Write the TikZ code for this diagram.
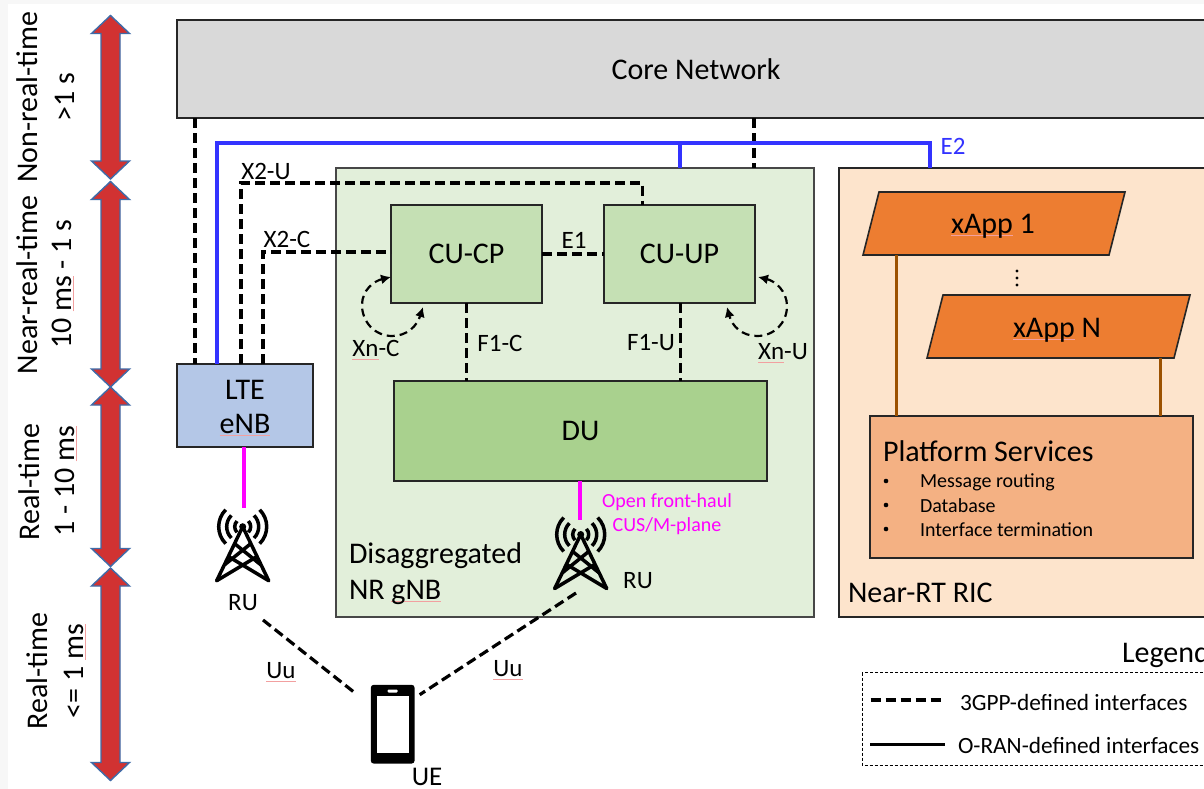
\documentclass[tikz,border=0pt]{standalone}
\usepackage{fontspec}
\setmainfont{Carlito}
\usetikzlibrary{arrows.meta,calc}
\definecolor{sqc}{HTML}{F2A0A0}
\definecolor{corefill}{HTML}{D9D9D9}
\definecolor{gnbfill}{HTML}{E2EFDA}
\definecolor{cufill}{HTML}{C5E0B4}
\definecolor{dufill}{HTML}{A9D18E}
\definecolor{ltefill}{HTML}{B4C7E7}
\definecolor{ricfill}{HTML}{FDE4CC}
\definecolor{appfill}{HTML}{ED7D31}
\definecolor{platfill}{HTML}{F4B183}
\definecolor{brownline}{HTML}{9C5100}
\definecolor{blueline}{HTML}{3333FF}
\definecolor{pinkline}{HTML}{FF00FF}
\definecolor{redfill}{HTML}{D13232}
\definecolor{redborder}{HTML}{3F6BA8}
\definecolor{edge}{HTML}{262626}
\newcommand{\sq}[1]{\setbox0\hbox{#1}\rlap{\raisebox{-2.5pt}{\textcolor{sqc}{\rule{\wd0}{0.7pt}}}}#1}
\newcommand{\fsz}[1]{\fontsize{#1}{#1}\selectfont}
\newcommand{\timearrow}[2]{\draw[fill=redfill,draw=redborder,line width=1.4pt,line join=miter]
  (110.5,#1) -- (129.5,#1+18) -- (120,#1+18) -- (120,#2-18) -- (129.5,#2-18) -- (110.5,#2)
  -- (91.5,#2-18) -- (101,#2-18) -- (101,#1+18) -- (91.5,#1+18) -- cycle;}
\tikzset{
  box/.style={draw=edge,line width=1.6pt,inner sep=0pt,outer sep=0pt,text=black},
  lab/.style={inner sep=0pt,outer sep=0pt,text=black,font=\fsz{25}},
  big/.style={lab,font=\fsz{30}},
  side/.style={lab,font=\fsz{30},rotate=90},
  dline/.style={line width=3.2pt,dash pattern=on 10pt off 5pt,black},
  loopline/.style={line width=2.2pt,dash pattern=on 8pt off 5pt,black,{Latex[length=10pt,width=10pt]}-{Latex[length=10pt,width=10pt]}},
  bluewire/.style={line width=3.3pt,blueline,line join=miter},
  pinkwire/.style={line width=4pt,pinkline},
  brownwire/.style={line width=3pt,brownline},
  towerpic/.pic={
    \begin{scope}[line width=3.5pt,black,line cap=round,line join=round]
      \draw (-26,54) -- (0,0) -- (26,54);
      \draw (-26,54) -- (14,30) (26,54) -- (-14,30);
      \draw (-18,38) -- (8,17) (18,38) -- (-8,17);
      \fill (0,0) circle (3.5);
      \foreach \r in {8,16,24}{
        \draw[line cap=butt] ({\r*cos(45)},{-\r*sin(45)}) arc[start angle=45,end angle=-45,radius=\r,y radius=-\r];
        \draw[line cap=butt] ({-\r*cos(45)},{-\r*sin(45)}) arc[start angle=135,end angle=225,radius=\r,y radius=-\r];
      }
    \end{scope}
  }
}
\begin{document}
\begin{tikzpicture}[x=1pt,y=-1pt]
\useasboundingbox (0,0) rectangle (1204,789);
\clip (0,0) rectangle (1204,789);
\fill[white] (0,0) rectangle (1204,789);
\fill[black!3] (0,0) rectangle (8,789);
\fill[black!3] (0,0) rectangle (1204,4);

% time scale
\timearrow{15.5}{179}
\timearrow{181.5}{387}
\timearrow{387}{566.5}
\timearrow{568}{780.5}
\node[side] (t1a) at (27,97) {Non-real-time};
\node[side] (t1b) at (65,97) {>1 s};
\node[side] (t2a) at (27,285) {Near-real-time};
\node[side] (t2b) at (63,284) {10 \sq{ms} - 1 s};
\node[side] (t3a) at (29,482) {Real-time};
\node[side] (t3b) at (66,481) {1 - 10 \sq{ms}};
\node[side] (t4a) at (37,671) {Real-time};
\node[side] (t4b) at (75,671) {<= 1 \sq{ms}};

% containers
\node[box,fill=corefill,minimum width=1038pt,minimum height=98.5pt] (core) at (696,69) {\fsz{30}Core Network};
\node[box,fill=gnbfill,draw=edge!85,minimum width=478pt,minimum height=449pt] (gnb) at (575,392.5) {};
\node[box,fill=ricfill,minimum width=400pt,minimum height=449pt] (ric) at (1039,392.5) {};

% gNB blocks
\node[box,fill=cufill,minimum width=151pt,minimum height=98pt] (cucp) at (466.5,254) {\fsz{30}CU-CP};
\node[box,fill=cufill,minimum width=151pt,minimum height=98pt] (cuup) at (679.5,254) {\fsz{30}CU-UP};
\node[box,fill=dufill,minimum width=373pt,minimum height=100pt] (du) at (580.5,431) {\fsz{30}DU};
\node[box,fill=ltefill,minimum width=136pt,minimum height=83pt] (lte) at (245,405.5) {};
\node[big] (ltea) at (245,390) {LTE};
\node[big] (lteb) at (245,425) {\sq{eNB}};

% RIC blocks
\draw[box,fill=appfill] (879,192) -- (1125,192) -- (1109,255) -- (863,255) -- cycle;
\draw[box,fill=appfill] (943,295) -- (1190,295) -- (1174,358) -- (927,358) -- cycle;
\node[big] (app1) at (993,226) {\sq{xApp} 1};
\node[big] (appn) at (1057,330) {\sq{xApp} N};
\coordinate (app1b) at (896.5,255);
\coordinate (appnb) at (1160,358);
\node[box,fill=platfill,minimum width=323pt,minimum height=142pt] (plat) at (1031.5,487) {};
\node[big,anchor=west] (plath) at (883,451) {Platform Services};
\foreach \yy/\tt/\nn in {481/Message routing/a,505/Database/b,529/Interface termination/c}{
  \fill[black] (886,\yy) circle (2.3);
  \node[lab,font=\fsz{20},anchor=west] (pl\nn) at (920,\yy+0.8) {\tt};
}
\foreach \yy in {271,278,285}{\fill[black] (1017,\yy) circle (1.7);}
\draw[brownwire] (app1b) -- (app1b |- plat.north);
\draw[brownwire] (appnb) -- (appnb |- plat.north);

% dashed interfaces
\draw[dline] (195,0 |- core.south) -- (195,0 |- lte.north);
\draw[dline] (754,0 |- core.south) -- (754,0 |- gnb.north);
\draw[dline] (241,0 |- lte.north) -- (241,183) -- (642.5,183) -- (642.5,0 |- cuup.north);
\draw[dline] (263,0 |- lte.north) -- (263,252) -- (cucp.west |- 0,252);
\draw[dline] (cucp.east) -- (cuup.west);
\draw[dline] (466.5,0 |- cucp.south) -- (466.5,0 |- du.north);
\draw[dline] (680.5,0 |- cuup.south) -- (680.5,0 |- du.north);

% blue E2
\draw[bluewire] (217,0 |- lte.north) -- (217,143) -- (930,143) -- (930,0 |- ric.north);
\draw[bluewire] (680,143) -- (680,0 |- gnb.north);

% loops
\draw[loopline] ($(cucp.south west)+(0,-26)$) .. controls (374,281) and (362,290) .. (362,305)
  .. controls (362,322) and (375,336) .. (392,336) .. controls (407,336) and (417,326) .. ($(cucp.south west)+(32,4)$);
\draw[loopline] ($(cuup.south east)+(3,-26)$) .. controls (775,281) and (787,291) .. (787,306)
  .. controls (787,323) and (774,336) .. (757,336) .. controls (742,336) and (732,326) .. ($(cuup.south east)+(-28,4)$);

% radio
\pic (tower1) at (242.7,526.7) {towerpic};
\pic (tower2) at (580.7,534.5) {towerpic};
\coordinate (t1top) at (243.5,508);
\coordinate (t2top) at (580,520);
\draw[pinkwire] (t1top |- lte.south) -- (t1top);
\draw[pinkwire] (t2top |- du.south) -- (t2top);
\node[box,fill=black,draw=black,rounded corners=2pt,minimum width=42pt,minimum height=77pt] (phone) at (392.7,724.2) {};
\fill[white] (376.7,696) rectangle (409,752.7);
\fill[white,rounded corners=1pt] (387.7,689.5) rectangle (397.7,692.5);
\coordinate (ru1c) at (263,620);
\coordinate (ru2c) at (576,593);
\draw[dline] (ru1c) -- ($(phone.north west)+(-17,7)$);
\draw[dline] (ru2c) -- ($(phone.north east)+(6,9)$);

% labels
\node[lab] (x2u) at (266,171) {X2-U};
\node[lab] (x2c) at (287,239) {X2-C};
\node[lab] (e1) at (574,240) {E1};
\node[lab] (xnc) at (376,350) {\sq{Xn}-C};
\node[lab] (xnu) at (783,353) {\sq{Xn}-U};
\node[lab] (f1c) at (500,343) {F1-C};
\node[lab] (f1u) at (651,343) {F1-U};
\node[lab] (ru1) at (243,603) {RU};
\node[lab] (ru2) at (638,581) {RU};
\node[lab] (uu1) at (281,672) {\sq{Uu}};
\node[lab] (uu2) at (508,670) {\sq{Uu}};
\node[lab,font=\fsz{27}] (ue) at (427,777) {UE};
\node[lab,text=blueline,font=\fsz{25}] (e2) at (953,146) {E2};
\node[lab,text=pinkline,font=\fsz{20}] (ofh1) at (667,502) {Open front-haul};
\node[lab,text=pinkline,font=\fsz{20}] (ofh2) at (667,526) {CUS/M-plane};
\node[big,anchor=west] (dis1) at (349,556) {Disaggregated};
\node[big,anchor=west] (dis2) at (349,592) {NR \sq{gNB}};
\node[big,anchor=west] (ricl) at (848,593) {Near-RT RIC};

% legend
\node[lab,anchor=west,font=\fsz{30}] (leg) at (1122,655) {Legend};
\draw[black,line width=1pt,dash pattern=on 3pt off 2pt] (862,672.5) rectangle (1240,765);
\coordinate (l1a) at (870.5,700);
\coordinate (l1b) at (942,700);
\coordinate (l2a) at (870,744);
\coordinate (l2b) at (945,744);
\draw[dline] (l1a) -- (l1b);
\draw[line width=3pt,black] (l2a) -- (l2b);
\node[lab,anchor=west,font=\fsz{23.3}] (leg1) at (960,702) {3GPP-defined interfaces};
\node[lab,anchor=west,font=\fsz{23.3}] (leg2) at (958,745) {O-RAN-defined interfaces};
\end{tikzpicture}
\end{document}
